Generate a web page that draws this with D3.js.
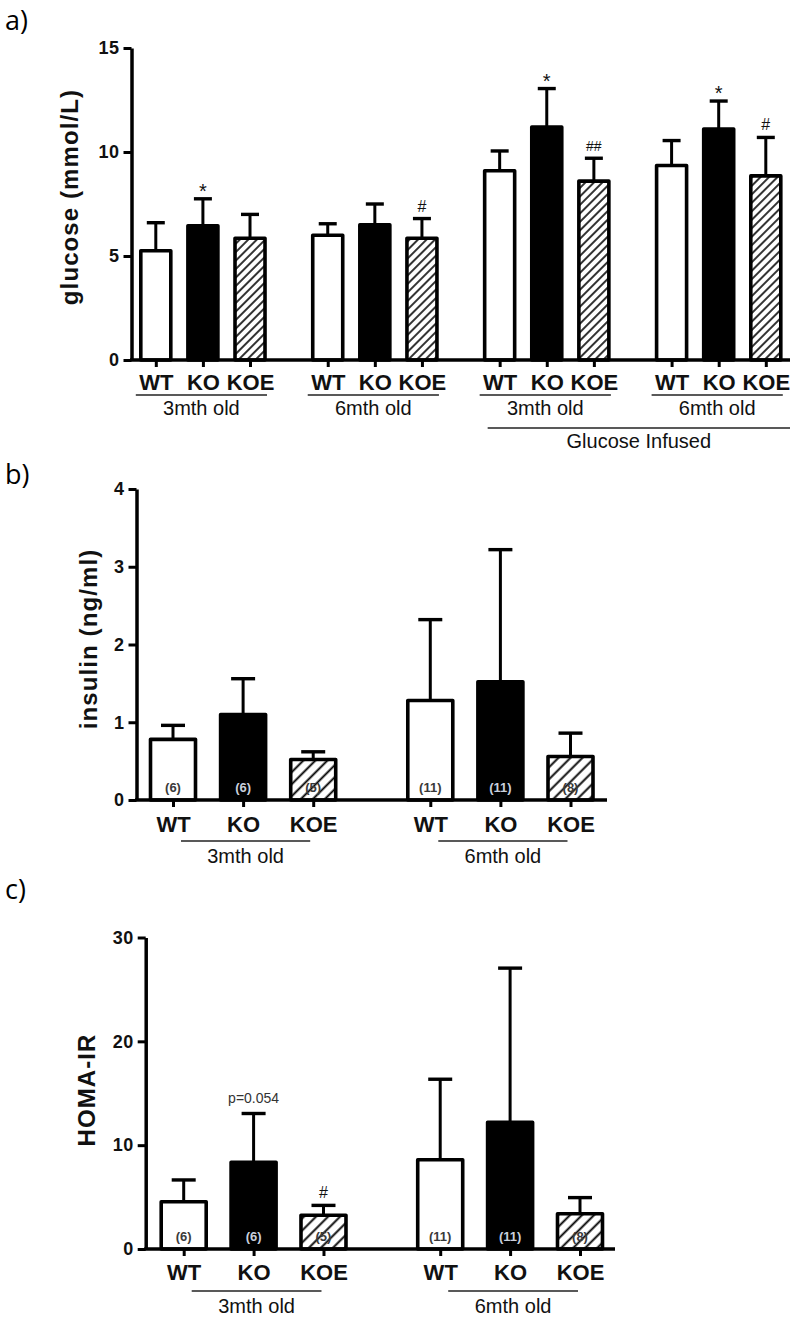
<!DOCTYPE html>
<html><head><meta charset="utf-8">
<script src="https://cdn.jsdelivr.net/npm/d3@7/dist/d3.min.js"></script>
<style>body{margin:0;background:#fff} svg{display:block}</style>
</head><body>
<svg id="chart" width="799" height="1319"></svg>
<script>
// ---------- data ----------
const genotypes = ["WT", "KO", "KOE"];

// a) glucose
const glucoseGroups = ["3mth old", "6mth old", "3mth old", "6mth old"];
const glucoseWT = [5.25, 6.0, 9.1, 9.35];
const glucoseKO = [6.45, 6.5, 11.2, 11.1];
const glucoseKOE = [5.85, 5.85, 8.6, 8.85];
const glucoseWTErr = [6.6, 6.55, 10.05, 10.55];
const glucoseKOErr = [7.75, 7.5, 13.05, 12.45];
const glucoseKOEErr = [7.0, 6.8, 9.7, 10.7];
const glucoseMarks = [["", "*", ""], ["", "", "#"], ["", "*", "##"], ["", "*", "#"]];
const glucoseTicks = [0, 5, 10, 15];
const glucoseTitle = "glucose (mmol/L)";
const infusedLabel = "Glucose Infused";

// b) insulin
const ageGroups = ["3mth old", "6mth old"];
const insulinWT = [0.78, 1.28];
const insulinKO = [1.1, 1.52];
const insulinKOE = [0.52, 0.56];
const insulinWTErr = [0.96, 2.32];
const insulinKOErr = [1.56, 3.22];
const insulinKOEErr = [0.62, 0.86];
const insulinTicks = [0, 1, 2, 3, 4];
const insulinTitle = "insulin (ng/ml)";

// sample sizes
const nWT = [6, 11];
const nKO = [6, 11];
const nKOE = [5, 8];

// c) HOMA-IR
const homaWT = [4.55, 8.6];
const homaKO = [8.35, 12.2];
const homaKOE = [3.25, 3.4];
const homaWTErr = [6.65, 16.35];
const homaKOErr = [13.05, 27.05];
const homaKOEErr = [4.2, 4.95];
const homaMarks = [["", "p=0.054", "#"], ["", "", ""]];
const homaTicks = [0, 10, 20, 30];
const homaTitle = "HOMA-IR";

const panelLabels = ["a)", "b)", "c)"];

// ---------- drawing ----------
const FONT = "'Liberation Sans', Arial, sans-serif";
const svg = d3.select("#chart");
const defs = svg.append("defs");
function hatch(id, w, sw) {
  const p = defs.append("pattern").attr("id", id).attr("patternUnits", "userSpaceOnUse")
    .attr("width", w).attr("height", w).attr("patternTransform", "rotate(45)");
  p.append("rect").attr("width", w).attr("height", w).attr("fill", "#fff");
  p.append("line").attr("x1", w / 2).attr("x2", w / 2).attr("y1", 0).attr("y2", w)
    .attr("stroke", "#000").attr("stroke-width", sw);
}
hatch("hatchA", 6, 1.6);
hatch("hatchB", 8.5, 1.9);

function panel(cfg) {
  const g = svg.append("g");
  const y = d3.scaleLinear().domain(cfg.yDomain).range(cfg.yRange);
  const nG = cfg.groups.length;
  const slot = (gi, i) => gi * (3 + cfg.gap) + i;
  const x = d3.scaleLinear().domain([0, slot(nG - 1, 2)]).range(cfg.xRange);
  const y0 = y(0);
  const rows = [];
  cfg.groups.forEach((grp, gi) => genotypes.forEach((gt, i) => rows.push({
    gi, i, gt, s: slot(gi, i),
    mean: cfg.means[i][gi], err: cfg.errs[i][gi],
    mark: cfg.marks ? cfg.marks[gi][i] : "",
    n: cfg.ns ? cfg.ns[i][gi] : null
  })));
  const fills = ["#fff", "#000", `url(#${cfg.hatch})`];

  // error bars
  g.selectAll(".eb").data(rows).join("line")
    .attr("x1", d => x(d.s)).attr("x2", d => x(d.s))
    .attr("y1", d => y(d.mean)).attr("y2", d => y(d.err))
    .attr("stroke", "#000").attr("stroke-width", 3);
  g.selectAll(".cap").data(rows).join("line")
    .attr("x1", d => x(d.s) - cfg.capW / 2).attr("x2", d => x(d.s) + cfg.capW / 2)
    .attr("y1", d => y(d.err)).attr("y2", d => y(d.err))
    .attr("stroke", "#000").attr("stroke-width", 3.4);

  // bars
  g.selectAll(".bar").data(rows).join("rect")
    .attr("x", d => x(d.s) - cfg.barW / 2).attr("width", cfg.barW)
    .attr("y", d => y(d.mean)).attr("height", d => y0 - y(d.mean))
    .attr("fill", d => fills[d.i]).attr("stroke", "#000").attr("stroke-width", 3.6)
    .attr("stroke-linejoin", "round");

  // n labels
  if (cfg.ns) {
    g.selectAll(".n").data(rows).join("text")
      .attr("x", d => x(d.s)).attr("y", y0 - 13)
      .attr("text-anchor", "middle").attr("dominant-baseline", "central")
      .attr("font-family", FONT).attr("font-size", 13).attr("font-weight", "bold")
      .attr("fill", d => d.i === 1 ? "#c9cfdc" : "#3a3a3a")
      .text(d => `(${d.n})`);
  }

  // significance marks
  g.selectAll(".mk").data(rows.filter(d => d.mark)).join("text")
    .attr("x", d => x(d.s))
    .attr("y", d => {
      const t = y(d.err);
      if (d.mark === "*") return t - 1;
      if (d.mark.startsWith("p")) return t - 10;
      return t - 7;
    })
    .attr("text-anchor", "middle").attr("font-family", FONT)
    .attr("font-size", d => d.mark === "*" ? 20 : d.mark === "##" ? 14 : d.mark.startsWith("p") ? 14 : 16)
    .attr("fill", d => d.mark.startsWith("p") ? "#333" : "#111")
    .text(d => d.mark);

  // y axis
  const ya = g.append("g").attr("transform", `translate(${cfg.axisX},0)`)
    .call(d3.axisLeft(y).tickValues(cfg.ticks).tickSize(8).tickSizeOuter(0).tickPadding(4).tickFormat(d3.format("d")));
  ya.select(".domain").attr("stroke-width", 3.5);
  ya.selectAll(".tick line").attr("stroke-width", 3);
  ya.selectAll(".tick text").attr("font-family", FONT).attr("font-weight", "bold")
    .attr("font-size", 18).attr("letter-spacing", 0.5).attr("fill", "#111");

  // x axis line
  g.append("line").attr("x1", cfg.axisX - 1.5).attr("x2", cfg.axisEnd)
    .attr("y1", y0).attr("y2", y0).attr("stroke", "#000").attr("stroke-width", 3.5);
  const xa = g.append("g").attr("transform", `translate(0,${y0})`)
    .call(d3.axisBottom(x).tickValues(rows.map(d => d.s)).tickSize(7).tickPadding(cfg.labPad)
      .tickFormat((d, k) => rows[k].gt));
  xa.select(".domain").remove();
  xa.selectAll(".tick line").attr("stroke-width", 3);
  xa.selectAll(".tick text").attr("font-family", FONT).attr("font-weight", "bold")
    .attr("font-size", cfg.labSize).attr("fill", "#111");

  // group underline + label
  cfg.groups.forEach((grp, gi) => {
    const [l, r] = cfg.under(x(slot(gi, 0)), x(slot(gi, 2)));
    g.append("line").attr("x1", l).attr("x2", r).attr("y1", y0 + cfg.ulY).attr("y2", y0 + cfg.ulY)
      .attr("stroke", "#222").attr("stroke-width", 1.4);
    g.append("text").attr("x", (l + r) / 2).attr("y", y0 + cfg.glY)
      .attr("text-anchor", "middle").attr("font-family", FONT).attr("font-size", 20).attr("fill", "#111")
      .text(grp);
  });

  // y title
  g.append("text").attr("transform", `translate(${cfg.titleX},${cfg.titleY}) rotate(-90)`)
    .attr("text-anchor", "middle").attr("font-family", FONT).attr("font-weight", "bold")
    .attr("font-size", 24).attr("letter-spacing", 1.1).attr("fill", "#111").text(cfg.title);

  // panel label
  svg.append("text").attr("x", 5).attr("y", cfg.labY).attr("font-family", "'Open Sans', sans-serif")
    .attr("font-size", 27).attr("fill", "#000").text(cfg.label);
  return { x, y, slot, y0 };
}

const pa = panel({
  label: panelLabels[0], labY: 30,
  yDomain: [0, 15], yRange: [360, 48], ticks: glucoseTicks,
  groups: glucoseGroups, gap: 0.65, xRange: [155.8, 765.8],
  means: [glucoseWT, glucoseKO, glucoseKOE], errs: [glucoseWTErr, glucoseKOErr, glucoseKOEErr],
  marks: glucoseMarks, hatch: "hatchA", barW: 30, capW: 18,
  axisX: 131.5, axisEnd: 790, labPad: 7, labSize: 22, ulY: 35, glY: 55,
  under: (a, b) => [a - 20, b + 17],
  title: glucoseTitle, titleX: 77.5, titleY: 197
});
// Glucose Infused bracket
{
  const l = pa.x(pa.slot(2, 0)) - 12, r = 790;
  svg.append("line").attr("x1", l).attr("x2", r).attr("y1", pa.y0 + 68).attr("y2", pa.y0 + 68)
    .attr("stroke", "#222").attr("stroke-width", 1.4);
  svg.append("text").attr("x", (l + r) / 2).attr("y", pa.y0 + 88).attr("text-anchor", "middle")
    .attr("font-family", FONT).attr("font-size", 20).attr("fill", "#111").text(infusedLabel);
}

panel({
  label: panelLabels[1], labY: 484,
  yDomain: [0, 4], yRange: [800, 489], ticks: insulinTicks,
  groups: ageGroups, gap: 0.67, xRange: [173, 570.5],
  means: [insulinWT, insulinKO, insulinKOE], errs: [insulinWTErr, insulinKOErr, insulinKOEErr],
  ns: [nWT, nKO, nKOE], hatch: "hatchB", barW: 45, capW: 24,
  axisX: 136.5, axisEnd: 607, labPad: 9, labSize: 22, ulY: 41, glY: 63,
  under: (a, b) => [a + 8, b - 3],
  title: insulinTitle, titleX: 96.5, titleY: 639
});

panel({
  label: panelLabels[2], labY: 899,
  yDomain: [0, 30], yRange: [1249, 937.5], ticks: homaTicks,
  groups: ageGroups, gap: 0.67, xRange: [183.7, 580],
  means: [homaWT, homaKO, homaKOE], errs: [homaWTErr, homaKOErr, homaKOEErr],
  marks: homaMarks, ns: [nWT, nKO, nKOE], hatch: "hatchB", barW: 45, capW: 24,
  axisX: 145.7, axisEnd: 615, labPad: 8.5, labSize: 22, ulY: 42, glY: 64,
  under: (a, b) => [a + 8, b - 2],
  title: homaTitle, titleX: 95, titleY: 1090
});
</script>
</body></html>
